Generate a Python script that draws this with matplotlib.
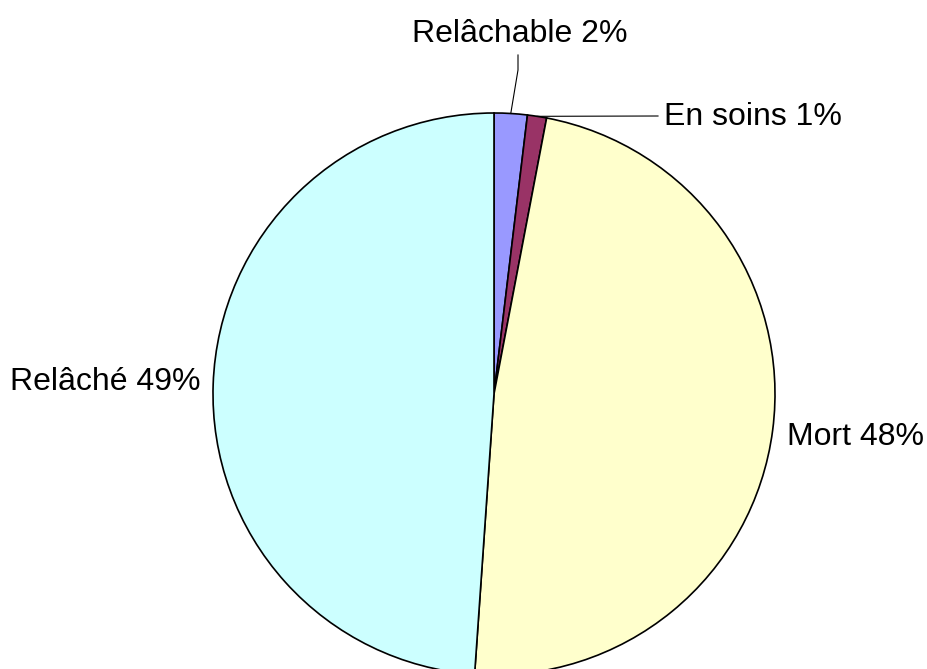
import numpy as np
import matplotlib
matplotlib.use('Agg')
import matplotlib.pyplot as plt

plt.rcParams['font.family'] = ['Liberation Sans', 'DejaVu Sans']

labels = ['Relâchable', 'En soins', 'Mort', 'Relâché']
values = [1.9, 1.1, 48.1, 48.9]
pct_text = ['2%', '1%', '48%', '49%']
colors = ['#9999FF', '#993366', '#FFFFCC', '#CCFFFF']

W, H = 928, 669
fig = plt.figure(figsize=(W / 100, H / 100), dpi=100)
ax = fig.add_axes([0, 0, 1, 1])

cx, cy, r = 494, 394, 281
# y axis is inverted, so counterclock=True draws clockwise on screen;
# startangle -90 puts the first wedge at the top
wedges, _ = ax.pie(values, colors=colors, startangle=-90, counterclock=True,
                   center=(cx, cy), radius=r, frame=True,
                   wedgeprops=dict(edgecolor='black', linewidth=1.2))
ax.set_xlim(0, W)
ax.set_ylim(H, 0)
ax.set_aspect('equal')
ax.axis('off')

fs = 23
txt = [f'{l} {p}' for l, p in zip(labels, pct_text)]

def edge_pt(w):
    a = np.deg2rad((w.theta1 + w.theta2) / 2)
    return cx + r * np.cos(a), cy + r * np.sin(a)

# Relâchable: leader line up to label
x0, y0 = edge_pt(wedges[0])
ax.plot([x0, 518, 518], [y0, 70, 55], color='black', lw=0.8)
ax.text(520, 42, txt[0], ha='center', va='baseline', fontsize=fs)

# En soins: horizontal leader
x1, y1 = edge_pt(wedges[1])
ax.plot([x1, 658], [y1, 116], color='black', lw=0.8)
ax.text(664, 117, txt[1], ha='left', va='center', fontsize=fs)

ax.text(787, 437, txt[2], ha='left', va='center', fontsize=fs)
ax.text(201, 382, txt[3], ha='right', va='center', fontsize=fs)

fig.savefig('out.png', dpi=100)
